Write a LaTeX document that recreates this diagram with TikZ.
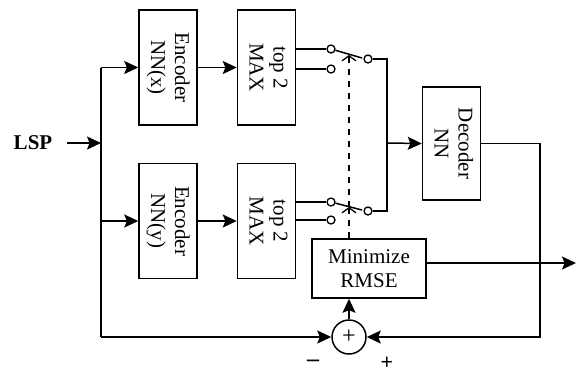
\documentclass[tikz,border=0pt]{standalone}
\usepackage{fontspec}
\setmainfont{Liberation Serif}
\usetikzlibrary{positioning,arrows.meta,calc}
\tikzset{
  box/.style={draw, line width=0.75pt, minimum width=29pt, minimum height=57.5pt, inner sep=0pt, align=center, font=\fontsize{10.5}{12}\selectfont},
  arrow/.style={-{Stealth[length=7pt,width=6.5pt,inset=1.3pt]}, line width=0.75pt},
  wire/.style={line width=0.75pt},
  pin/.style={draw, circle, line width=0.65pt, minimum size=4pt, inner sep=0pt},
  link/.style={dashed, line width=0.65pt, -{Straight Barb[length=2.5pt,width=7pt]}}
}
\newcommand{\vlabel}[1]{\rotatebox{-90}{\begin{tabular}{@{}c@{}}#1\end{tabular}}}

\begin{document}
\begin{tikzpicture}[x=0.5pt, y=-0.5pt, node distance=19.5pt]
    \useasboundingbox (0,0) rectangle (576,371);
    % blocks
    \node[box] (encx) at (168,67.5) {\vlabel{Encoder\\NN(x)}};
    \node[box, right=of encx] (maxx) {\vlabel{top 2\\MAX}};
    \node[box, below=18.5pt of encx] (ency) {\vlabel{Encoder\\NN(y)}};
    \node[box, right=of ency] (maxy) {\vlabel{top 2\\MAX}};
    \node[box, minimum height=56.5pt] (dec) at (451.5,143.5) {\vlabel{Decoder\\NN}};
    \node[box, minimum width=57pt, minimum height=29.5pt] (rmse) at (369,268.5) {Minimize\\RMSE};
    \node[draw, circle, line width=0.75pt, minimum size=17pt, inner sep=0pt, font=\fontsize{12}{12}\selectfont] (sum) at (349,337) {+};
    \node[font=\fontsize{10.5}{12}\selectfont\bfseries] (lsp) at (33,143) {LSP};
    \node[font=\fontsize{12}{12}\selectfont\bfseries] (minus) at (313,363) {--};
    \node[font=\fontsize{11}{12}\selectfont\bfseries] (plus) at (387,363) {+};
    % switches
    \node[pin] (swxa) at (331,49) {};
    \node[pin] (swxb) at (331,69) {};
    \node[pin] (swxo) at (368,59) {};
    \node[pin] (swya) at (331,202) {};
    \node[pin] (swyb) at (331,220) {};
    \node[pin] (swyo) at (368,211) {};
    \coordinate (levx) at (362,58);
    \coordinate (levy) at (362,210);
    \coordinate (lka) at (349,55);
    \coordinate (lkb) at (349,207);
    \coordinate (split) at (101,143);
    \coordinate (join) at (387,143);
    \coordinate (fb) at (540,240);
    \coordinate (out) at (576,263);
    % input side
    \draw[arrow, shorten <=4pt] (lsp) -- (split);
    \draw[wire] (split |- encx) -- (split |- sum);
    \draw[arrow] (split |- encx) -- (encx);
    \draw[arrow] (split |- ency) -- (ency);
    \draw[arrow] (encx) -- (maxx);
    \draw[arrow] (ency) -- (maxy);
    \draw[arrow] (split |- sum) -- (sum.west);
    % switch contacts
    \draw[wire] (maxx.east |- swxa) -- (swxa);
    \draw[wire] (maxx.east |- swxb) -- (swxb);
    \draw[wire] (maxy.east |- swya) -- (swya);
    \draw[wire] (maxy.east |- swyb) -- (swyb);
    \draw[wire] (swxa) -- (levx);
    \draw[wire] (swya) -- (levy);
    \draw[wire] (swxo) -| (join);
    \draw[wire] (swyo) -| (join);
    \draw[arrow] (join) -- (dec.west);
    \draw[link] (sum |- rmse.north) -- (lkb);
    \draw[link] (lkb) -- (lka);
    % error loop
    \draw[arrow] (dec.east) -| (fb) |- (sum.east);
    \draw[arrow] (sum) -- (sum |- rmse.south);
    \draw[arrow] (rmse.east |- out) -- (out);
  \end{tikzpicture}
\end{document}
